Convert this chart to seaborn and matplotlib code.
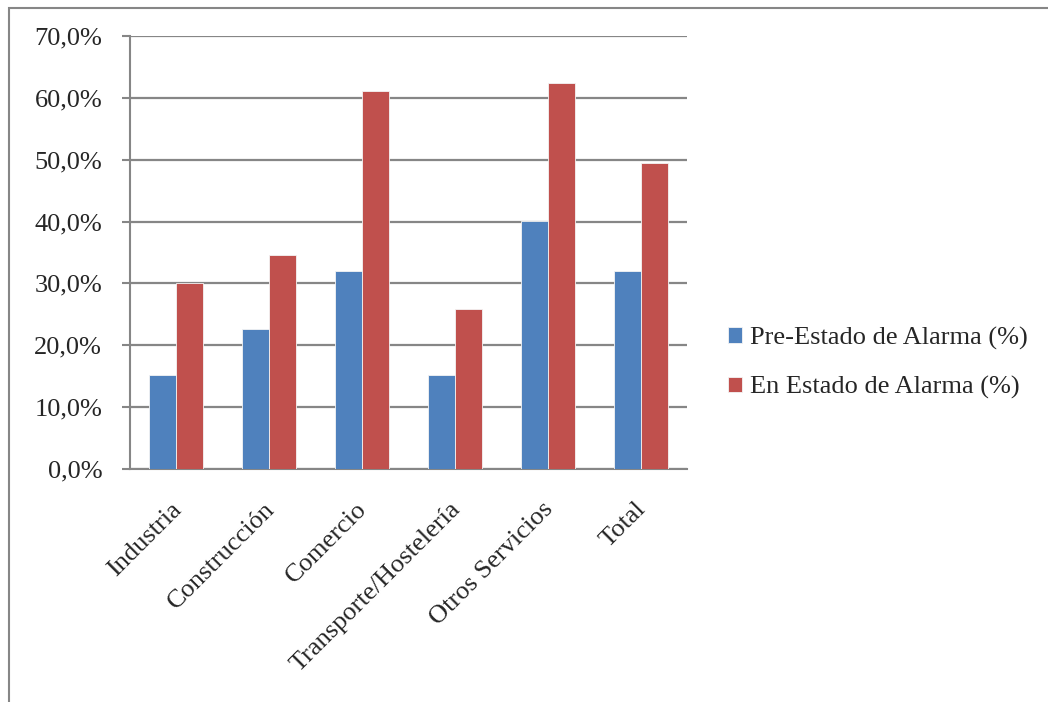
import pandas as pd
import seaborn as sns
import matplotlib.pyplot as plt
from matplotlib.patches import Rectangle
from matplotlib.transforms import ScaledTranslation
from matplotlib.ticker import FuncFormatter, MultipleLocator, FixedLocator

# data (percent)
sectores = ["Industria", "Construcción", "Comercio", "Transporte/Hostelería",
            "Otros Servicios", "Total"]
pre_alarma = [15.2, 22.6, 32.0, 15.2, 40.1, 32.0]
en_alarma = [30.0, 34.6, 61.1, 25.8, 62.4, 49.4]
series = ["Pre-Estado de Alarma (%)", "En Estado de Alarma (%)"]

df = pd.DataFrame({
    "sector": sectores * 2,
    "serie": [series[0]] * len(sectores) + [series[1]] * len(sectores),
    "valor": pre_alarma + en_alarma,
})

sns.set_style("white")
plt.rcParams['font.family'] = ['Liberation Serif', 'DejaVu Serif']

grey = "#868686"
fig = plt.figure(figsize=(10.48, 7.02), dpi=100)
ax = fig.add_axes([130/1048, 1-469/702, (687-130)/1048, (469-36)/702])

sns.barplot(data=df, x="sector", y="valor", hue="serie", order=sectores,
            hue_order=series, palette=["#4F81BD", "#C0504D"], width=0.58,
            saturation=1, edgecolor="#f4f4f4", linewidth=0.6, ax=ax, zorder=3)

ax.set_ylim(0, 70)
ax.set_xlim(-0.5, len(sectores) - 0.5)
ax.yaxis.set_major_locator(MultipleLocator(10))
ax.yaxis.set_major_formatter(FuncFormatter(lambda v, p: f"{v:.1f}%".replace(".", ",")))
ax.grid(axis="y", color=grey, linewidth=1.6, zorder=0)
ax.set_axisbelow(True)

ax.xaxis.set_minor_locator(FixedLocator([i - 0.5 for i in range(len(sectores) + 1)]))
ax.tick_params(axis="x", which="major", length=0, pad=16, labelsize=19)
ax.tick_params(axis="x", which="minor", length=6, color=grey, width=1.5, direction="out")
ax.tick_params(axis="y", length=6, color=grey, width=1.5, direction="out",
               labelsize=19, pad=14, left=True)
shift = ScaledTranslation(-6 / 100, -7 / 100, fig.dpi_scale_trans)
for lbl in ax.get_xticklabels():
    lbl.set_rotation(45)
    lbl.set_ha("right")
    lbl.set_rotation_mode("anchor")
    lbl.set_transform(lbl.get_transform() + shift)

for s in ["top", "right"]:
    ax.spines[s].set_visible(False)
for s in ["left", "bottom"]:
    ax.spines[s].set_color(grey)
    ax.spines[s].set_linewidth(1.5)

ax.set_xlabel("")
ax.set_ylabel("")

ax.legend(loc="center left", bbox_to_anchor=(704/1048, 1-363/702),
          bbox_transform=fig.transFigure, frameon=False, fontsize=19,
          handlelength=0.55, handleheight=0.55, handletextpad=0.3,
          labelspacing=1.0)

# outer chart border
fig.patches.append(Rectangle((9/1048, -0.1), 1.2, 1 - 8/702 + 0.1,
                             transform=fig.transFigure, fill=False,
                             edgecolor=grey, linewidth=1.5))

plt.savefig("out.png", dpi=100)
